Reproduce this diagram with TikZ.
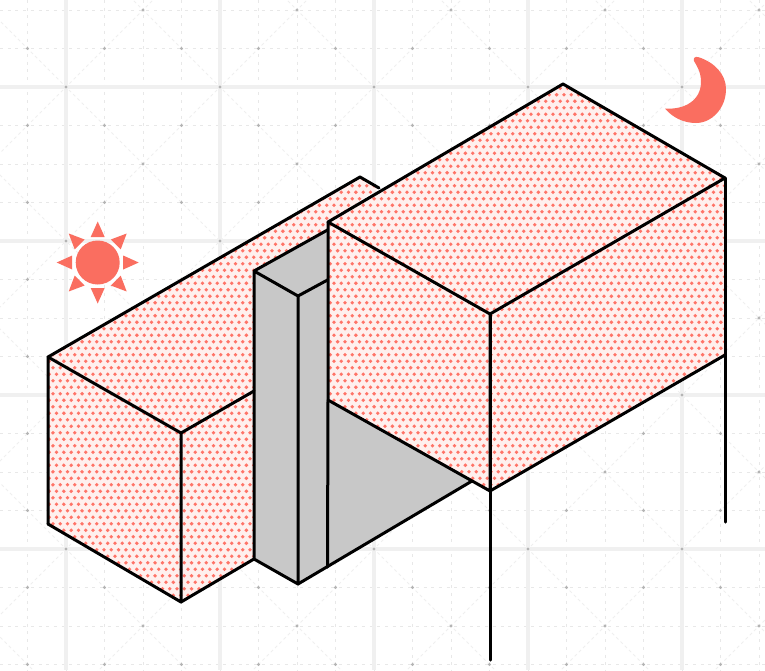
\documentclass[tikz,border=0pt]{standalone}
\usetikzlibrary{patterns}
\definecolor{sunred}{HTML}{FA6E60}
\definecolor{facegray}{HTML}{C8C8C8}
\definecolor{gridmaj}{HTML}{F0F0F0}
\definecolor{gridmin}{HTML}{E8E8E8}
\definecolor{griddiag}{HTML}{EFEFEF}
\definecolor{griddot}{HTML}{B4B4B4}
\definecolor{dotred}{HTML}{FF7468}
\definecolor{facepink}{HTML}{FFF0EE}
\pgfdeclarepatternformonly{hexdots}{\pgfpoint{-2pt}{-2pt}}{\pgfpoint{9pt}{15pt}}{\pgfpoint{7.3pt}{13pt}}{%
  \pgfpathcircle{\pgfpoint{1.8pt}{3.25pt}}{1.9pt}
  \pgfpathcircle{\pgfpoint{5.45pt}{9.75pt}}{1.9pt}
  \pgfusepath{fill}}
\tikzset{
  x=1pt,y=-1pt,
  edge/.style={draw=black,line width=3pt,line join=round,line cap=round},
  pinkface/.style={fill=facepink,postaction={pattern=hexdots,pattern color=dotred}},
  grayface/.style={fill=facegray},
  majline/.style={draw=gridmaj,line width=3.6pt},
  minline/.style={draw=gridmin,line width=1pt,dash pattern=on 3pt off 4.7pt},
  diagline/.style={draw=griddiag,line width=1pt,dash pattern=on 3pt off 3pt},
  icon/.style={fill=sunred,draw=none}
}
\begin{document}
\begin{tikzpicture}
\useasboundingbox (0,0) rectangle (765,670);
\fill[white] (0,0) rectangle (765,670);
% background grid
\begin{scope}
\clip (0,0) rectangle (765,670);
\foreach \i in {-1,...,18}{
  \pgfmathsetmacro{\xx}{66+38.5*\i}
  \draw[minline] (\xx,0) -- (\xx,670);
}
\foreach \j in {-2,...,15}{
  \pgfmathsetmacro{\yy}{87+38.5*\j}
  \draw[minline] (0,\yy) -- (765,\yy);
}
\foreach \k in {-8,...,8}{
  \pgfmathsetmacro{\ax}{66+154*\k}
  \draw[diagline] (\ax-154,87-154) -- ++(1000,1000);
  \draw[diagline] (\ax+154,87-154) -- ++(-1000,1000);
}
\foreach \k in {0,...,4}{
  \pgfmathsetmacro{\xx}{66+154*\k}
  \draw[majline] (\xx,0) -- (\xx,670);
}
\foreach \k in {0,...,3}{
  \pgfmathsetmacro{\yy}{87+154*\k}
  \draw[majline] (0,\yy) -- (765,\yy);
}
\foreach \i in {-1,...,18}{
  \foreach \j in {-2,...,15}{
    \pgfmathtruncatemacro{\ma}{mod(\i+\j+40,4)}
    \pgfmathtruncatemacro{\mb}{mod(\i-\j+40,4)}
    \pgfmathtruncatemacro{\onit}{(\ma==0 || \mb==0) ? 1 : 0}
    \ifnum\onit=1
      \fill[griddot] (66+38.5*\i,87+38.5*\j) circle (1.7pt);
    \fi
  }
}
\end{scope}
% key points
\coordinate (LA) at (48,357);
\coordinate (LB) at (360,177);
\coordinate (LC) at (379,188);
\coordinate (LD) at (181,433);
\coordinate (LE) at (181,602);
\coordinate (LF) at (48,524);
\coordinate (LG) at (254,391);
\coordinate (LH) at (254,559);
\coordinate (CA) at (254,271);
\coordinate (CB) at (298,296);
\coordinate (CC) at (298,584);
\coordinate (CD) at (327.5,280);
\coordinate (CE) at (327.5,567);
\coordinate (CF) at (327.5,230);
\coordinate (RA) at (328,222);
\coordinate (RB) at (563,84);
\coordinate (RC) at (725,178);
\coordinate (RD) at (490,314);
\coordinate (RE) at (490,491);
\coordinate (RF) at (328,400);
\coordinate (RG) at (725,355);
\coordinate (RH) at (472,481);
\coordinate (RI) at (490,660);
\coordinate (RJ) at (725,522);
% left box
\path[pinkface] (LA) -- (LB) -- (LC) -- (RA) -- (CF) -- (CA) -- (LG) -- (LD) -- cycle;
\path[pinkface] (LA) -- (LD) -- (LE) -- (LF) -- cycle;
\path[pinkface] (LD) -- (LG) -- (LH) -- (LE) -- cycle;
% column and shadow
\path[grayface] (CA) -- (CF) -- (CD) -- (CB) -- cycle;
\path[grayface] (CA) -- (CB) -- (CC) -- (LH) -- cycle;
\path[grayface] (CB) -- (CD) -- (CE) -- (CC) -- cycle;
\path[grayface] (RF) -- (RH) -- (CE) -- cycle;
% right box
\path[pinkface] (RA) -- (RB) -- (RC) -- (RD) -- cycle;
\path[pinkface] (RA) -- (RD) -- (RE) -- (RF) -- cycle;
\path[pinkface] (RD) -- (RC) -- (RG) -- (RE) -- cycle;
% outlines
\draw[edge] (LF) -- (LA) -- (LB) -- (LC);
\draw[edge] (LA) -- (LD) -- (LE) -- (LF);
\draw[edge] (LD) -- (LG);
\draw[edge] (LE) -- (LH);
\draw[edge] (CF) -- (CA) -- (CB) -- (CC) -- (LH) -- (CA);
\draw[edge] (CB) -- (CD);
\draw[edge] (CC) -- (RH);
\draw[edge] (RF) -- (CE);
\draw[edge] (RA) -- (RB) -- (RC) -- (RD) -- cycle;
\draw[edge] (RA) -- (RF) -- (RE) -- (RD);
\draw[edge] (RE) -- (RG);
\draw[edge] (RC) -- (RJ);
\draw[edge] (RD) -- (RI);
% sun
\fill[icon] (97.7,262.5) circle (22);
\foreach \a in {0,45,...,315}{
  \fill[icon,shift={(97.7,262.5)},rotate=\a] (25.5,-7) -- (41,0) -- (25.5,7) -- cycle;
}
% moon
\fill[icon] (698,57) .. controls (714,62) and (726,74) .. (726,89)
  .. controls (726,108) and (712,123) .. (696,123)
  .. controls (683,123) and (672,117) .. (665,108.5)
  .. controls (685,110) and (701,100) .. (701,82)
  .. controls (701,72) and (697,66) .. (694,61)
  .. controls (693,58) and (695,56.5) .. (698,57) -- cycle;
\end{tikzpicture}
\end{document}
